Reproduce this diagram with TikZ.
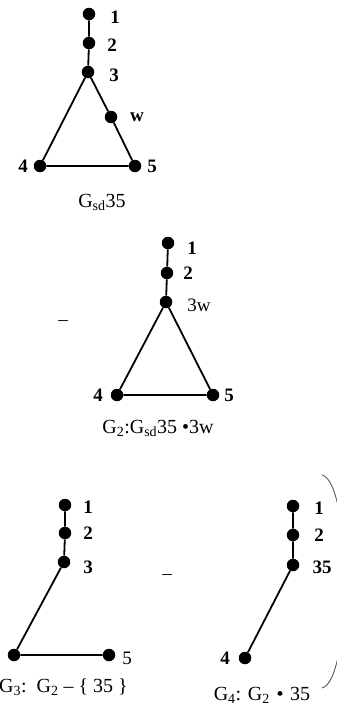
\documentclass[tikz,border=0pt]{standalone}
\usepackage{fontspec}
\setmainfont{Liberation Serif}
\begin{document}
\begin{tikzpicture}[x=1pt,y=-1pt,
  vtx/.style={circle,fill=black,inner sep=0pt,minimum size=12.5pt},
  edge/.style={line width=1.8pt},
  lab/.style={inner sep=0pt,font=\fontsize{19}{21}\selectfont\bfseries},
  labr/.style={inner sep=0pt,font=\fontsize{19}{21}\selectfont},
  captxt/.style={inner sep=0pt,font=\fontsize{20}{22}\selectfont}]
\useasboundingbox (0,0) rectangle (337,720);
\clip (0,0) rectangle (337,720);
% top graph
\node[vtx] (t1) at (89,14) {};
\node[vtx] (t2) at (89,43) {};
\node[vtx] (t3) at (88,72) {};
\node[vtx] (tw) at (111,117) {};
\node[vtx] (t4) at (40,166) {};
\node[vtx] (t5) at (135,166) {};
\draw[edge] (t1) -- (t2) -- (t3) -- (tw) -- (t5) -- (t4) -- (t3);
\node[lab] (tl1) at (115,17) {1};
\node[lab] (tl2) at (112,45) {2};
\node[lab] (tl3) at (114,75) {3};
\node[lab] (tlw) at (137,117) {w};
\node[lab] (tl4) at (23,166) {4};
\node[lab] (tl5) at (152,166) {5};
\node[captxt] (tc) at (102,202) {G\textsubscript{sd}35};
% middle graph
\node[vtx] (m1) at (168,243) {};
\node[vtx] (m2) at (167,273) {};
\node[vtx] (m3) at (166,302) {};
\node[vtx] (m4) at (117,395) {};
\node[vtx] (m5) at (213,395) {};
\draw[edge] (m1) -- (m2) -- (m3) -- (m5) -- (m4) -- (m3);
\node[lab] (ml1) at (192,248) {1};
\node[lab] (ml2) at (188,273) {2};
\node[labr] (ml3) at (199,305) {3w};
\node[lab] (ml4) at (98,395) {4};
\node[lab] (ml5) at (229,395) {5};
\node[labr] (md) at (63,323) {–};
\node[captxt] (mc) at (158,428) {G\textsubscript{2}:G\textsubscript{sd}35 •3w};
% G3
\node[vtx] (a1) at (65,505) {};
\node[vtx] (a2) at (65,533) {};
\node[vtx] (a3) at (64,562) {};
\node[vtx] (a4) at (14,655) {};
\node[vtx] (a5) at (109,655) {};
\draw[edge] (a1) -- (a2) -- (a3) -- (a4) -- (a5);
\node[lab] (al1) at (88,507) {1};
\node[lab] (al2) at (88,533) {2};
\node[lab] (al3) at (88,567) {3};
\node[labr] (al5) at (127,658) {5};
\node[labr] (ad) at (167,577) {–};
\node[captxt,anchor=east] (ac) at (128,687) {G\textsubscript{3}:\ \ G\textsubscript{2} – \{ 35 \}};
% G4
\node[vtx] (b1) at (293,506) {};
\node[vtx] (b2) at (293,535) {};
\node[vtx] (b3) at (293,565) {};
\node[vtx] (b4) at (245,658) {};
\draw[edge] (b1) -- (b2) -- (b3) -- (b4);
\node[lab] (bl1) at (319,508) {1};
\node[lab] (bl2) at (319,535) {2};
\node[lab] (bl3) at (322,567) {35};
\node[lab] (bl4) at (225,658) {4};
\node[captxt] (bc) at (262,695) {G\textsubscript{4}:\,\,G\textsubscript{2}\,\,•\,\,35};
% bracket
\coordinate (br1) at (322,475);
\coordinate (br2) at (322,688);
\draw[line width=0.9pt,gray!70!black] (br1) .. controls (352,482) and (352,681) .. (br2);
\end{tikzpicture}
\end{document}
